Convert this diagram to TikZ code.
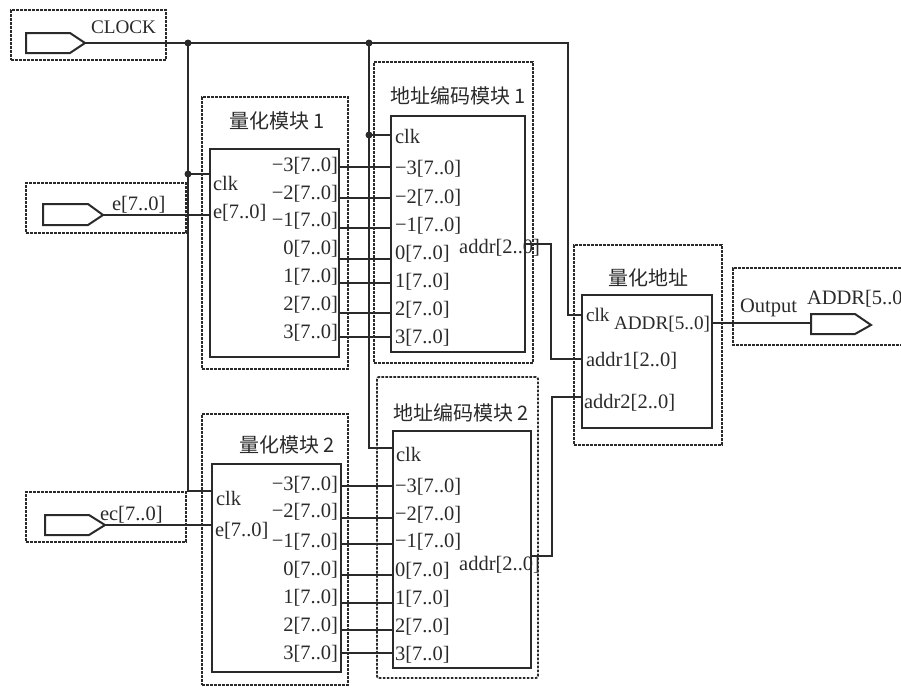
\documentclass[tikz,border=0pt]{standalone}
\usepackage{fontspec}
\setmainfont{Liberation Serif}
\newfontfamily\cjkf{Noto Sans CJK SC}
\definecolor{ink}{HTML}{2A2A2A}
\tikzset{
  wire/.style={draw=ink,line width=1.8pt},
  pinshape/.style={draw=ink,line width=2pt,line join=miter},
  dbox/.style={draw=ink,line width=1.9pt,dash pattern=on 2.6pt off 1.4pt,inner sep=0pt,outer sep=0pt,anchor=north west},
  mbox/.style={draw=ink,line width=2pt,inner sep=0pt,outer sep=0pt,anchor=north west},
  lab/.style={text=ink,font=\fontsize{20.5}{21}\selectfont,inner sep=0pt,outer sep=0pt},
  slab/.style={text=ink,font=\fontsize{19.2}{20}\selectfont,inner sep=0pt,outer sep=0pt},
  llab/.style={lab,anchor=west},
  rlab/.style={lab,anchor=east},
  ttl/.style={text=ink,font=\fontsize{20}{22}\selectfont\cjkf,inner sep=0pt},
  dot/.style={circle,fill=ink,inner sep=0pt,minimum size=7pt},
}
\begin{document}
\begin{tikzpicture}[x=1pt,y=-1pt]
\useasboundingbox (0,0) rectangle (901,686);
% dashed frames
\node[dbox,minimum width=155pt,minimum height=50pt] (dclock) at (11,10) {};
\node[dbox,minimum width=160pt,minimum height=50pt] (de) at (26,183) {};
\node[dbox,minimum width=160pt,minimum height=50pt] (dec) at (26,492) {};
\node[dbox,minimum width=146pt,minimum height=272pt] (dq1) at (202,97) {};
\node[dbox,minimum width=146pt,minimum height=271pt] (dq2) at (202,414) {};
\node[dbox,minimum width=159pt,minimum height=301pt] (da1) at (374,62) {};
\node[dbox,minimum width=161pt,minimum height=301pt,rounded corners=2pt] (da2) at (377,377) {};
\node[dbox,minimum width=148pt,minimum height=200pt] (dq) at (574,245) {};
\draw[ink,line width=1.9pt,dash pattern=on 2.6pt off 1.4pt] (901,268) -- (733,268) -- (733,345) -- (901,345);
% module boxes
\node[mbox,minimum width=129pt,minimum height=208pt] (q1) at (210,149) {};
\node[mbox,minimum width=129pt,minimum height=208pt] (q2) at (212,464) {};
\node[mbox,minimum width=134pt,minimum height=236pt] (a1) at (391,116) {};
\node[mbox,minimum width=138pt,minimum height=237pt] (a2) at (393,431) {};
\node[mbox,minimum width=130pt,minimum height=133pt] (qa) at (582,295) {};
% pins
\draw[pinshape] (26,33) -- (70,33) -- (85,43) -- (70,53) -- (26,53) -- cycle;
\coordinate (pclock) at (85,43);
\draw[pinshape] (43,204) -- (88,204) -- (103,215) -- (88,225) -- (43,225) -- cycle;
\coordinate (pe) at (103,215);
\draw[pinshape] (45,515) -- (89,515) -- (105,525) -- (89,535) -- (45,535) -- cycle;
\coordinate (pec) at (105,525);
\draw[pinshape] (811,314) -- (855,314) -- (871,325) -- (855,334) -- (811,334) -- cycle;
\coordinate (pout) at (811,323);
% junctions
\node[dot] (j1) at (188,43) {};
\node[dot] (j2) at (369,43) {};
\node[dot] (j3) at (188,174) {};
\node[dot] (j4) at (369,135) {};
% clock network
\coordinate (qck1) at (210,174);
\coordinate (qck2) at (212,491);
\coordinate (ack1) at (391,135);
\coordinate (ack2) at (393,448);
\coordinate (qck) at (582,315);
\draw[wire] (pclock) -- (j1.center) -- (j2.center) -- (568,43) -- (568,315) -- (qck);
\draw[wire] (j1.center) -- (j3.center) -- (188,491) -- (qck2);
\draw[wire] (j3.center) -- (qck1);
\draw[wire] (j2.center) -- (j4.center) -- (369,448) -- (ack2);
\draw[wire] (j4.center) -- (ack1);
% data inputs
\coordinate (qe1) at (210,215);
\coordinate (qe2) at (212,525);
\draw[wire] (pe) -- (qe1);
\draw[wire] (pec) -- (qe2);
% quantiser to encoder buses
\foreach \n/\y in {1/167,2/198,3/228,4/259,5/283,6/313,7/337}{
  \coordinate (s\n) at (339,\y);
  \coordinate (t\n) at (391,\y);
  \draw[wire] (s\n) -- (t\n);
}
\foreach \n/\y in {1/486,2/518,3/544,4/575,5/603,6/630,7/653}{
  \coordinate (u\n) at (341,\y);
  \coordinate (v\n) at (393,\y);
  \draw[wire] (u\n) -- (v\n);
}
% encoder outputs
\coordinate (ao1) at (525,244);
\coordinate (ao2) at (531,556);
\coordinate (qi1) at (582,359);
\coordinate (qi2) at (582,397);
\coordinate (qo) at (712,323);
\draw[wire] (ao1) -- (551,244) -- (551,359) -- (qi1);
\draw[wire] (ao2) -- (552,556) -- (552,397) -- (qi2);
\draw[wire] (qo) -- (pout);
% titles
\node[ttl] (tq1) at (277,121) {量化模块\,1};
\node[ttl] (tq2) at (287,445) {量化模块\,2};
\node[ttl] (ta1) at (458,96) {地址编码模块\,1};
\node[ttl] (ta2) at (461,413) {地址编码模块\,2};
\node[ttl] (tq) at (648,278) {量化地址};
% pin labels
\node[slab,anchor=west] (lclock) at (91,27) {CLOCK};
\node[llab] (le) at (112,205) {e[7..0]};
\node[llab] (lec) at (100,515) {ec[7..0]};
\node[llab] (lout) at (740,308) {Output};
\node[llab] (laddr) at (807,299) {ADDR[5..0};
% quantiser 1
\node[llab] (q1c) at (213,183) {clk};
\node[llab] (q1e) at (213,213) {e[7..0]};
\foreach \n/\y/\t in {1/166/−3,2/194/−2,3/221/−1,4/249/0,5/277/1,6/305/2,7/333/3}
  \node[rlab] (q1l\n) at (338,\y) {\t[7..0]};
% quantiser 2
\node[llab] (q2c) at (216,498) {clk};
\node[llab] (q2e) at (215,531) {e[7..0]};
\foreach \n/\y/\t in {1/485/−3,2/512/−2,3/542/−1,4/570/0,5/598/1,6/626/2,7/654/3}
  \node[rlab] (q2l\n) at (338,\y) {\t[7..0]};
% encoder 1
\node[llab] (a1c) at (395,136) {clk};
\foreach \n/\y/\t in {1/169/−3,2/198/−2,3/226/−1,4/254/0,5/282/1,6/310/2,7/338/3}
  \node[llab] (a1l\n) at (395,\y) {\t[7..0]};
\node[rlab] (a1a) at (540,248) {addr[2..0]};
% encoder 2
\node[llab] (a2c) at (396,454) {clk};
\foreach \n/\y/\t in {1/487/−3,2/515/−2,3/542/−1,4/571/0,5/599/1,6/627/2,7/655/3}
  \node[llab] (a2l\n) at (395,\y) {\t[7..0]};
\node[rlab] (a2a) at (540,565) {addr[2..0]};
% quantised address
\node[slab,anchor=west] (qc) at (586,315) {clk};
\node[slab,anchor=east] (qa5) at (710,324) {ADDR[5..0]};
\node[llab] (qa1) at (586,361) {addr1[2..0]};
\node[llab] (qa2) at (584,403) {addr2[2..0]};
\end{tikzpicture}
\end{document}
